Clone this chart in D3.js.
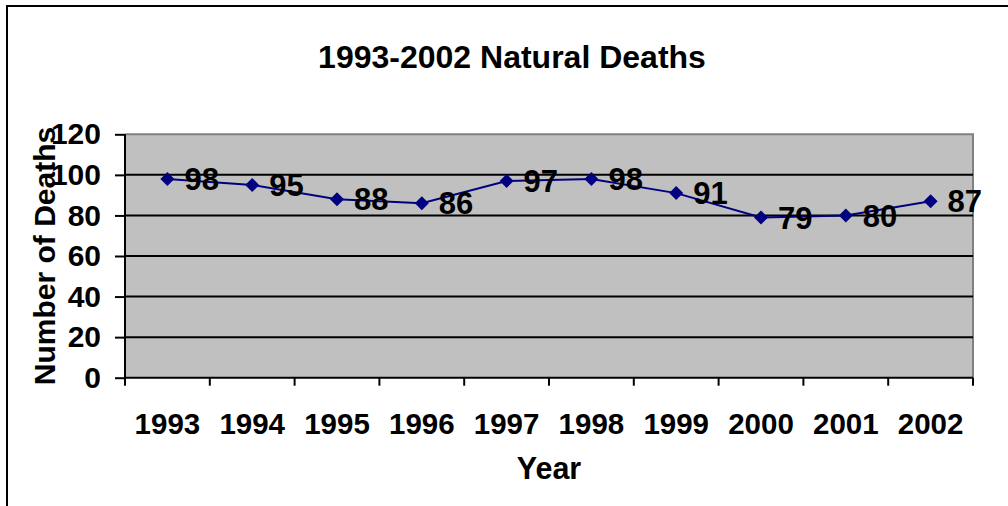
<!DOCTYPE html>
<html>
<head>
<meta charset="utf-8">
<script src="https://d3js.org/d3.v7.min.js"></script>
<style>
  body { margin: 0; background: #fff; }
  svg text { font-family: Arial, "Liberation Sans", sans-serif; font-weight: bold; fill: #000; }
</style>
</head>
<body>
<svg id="chart" width="1008" height="506"></svg>
<script>
const years = ["1993", "1994", "1995", "1996", "1997", "1998", "1999", "2000", "2001", "2002"];
const deaths = [98, 95, 88, 86, 97, 98, 91, 79, 80, 87];
const yTicks = [0, 20, 40, 60, 80, 100, 120];

const svg = d3.select("#chart");
const plotL = 125, plotR = 973, plotT = 134.3, plotB = 377.7;

// outer chart border (runs off the picture at right and bottom)
svg.append("rect")
  .attr("x", 7).attr("y", 6).attr("width", 1010).attr("height", 520)
  .attr("fill", "#fff").attr("stroke", "#000").attr("stroke-width", 2);

const x = d3.scaleBand().domain(years).range([plotL, plotR]);
const y = d3.scaleLinear().domain([0, 120]).range([plotB, plotT]);

// plot area
svg.append("rect")
  .attr("x", plotL).attr("y", plotT).attr("width", plotR - plotL).attr("height", plotB - plotT)
  .attr("fill", "#c0c0c0");
svg.append("path")
  .attr("d", `M${plotL},${plotT}H${plotR}V${plotB}`)
  .attr("fill", "none").attr("stroke", "#808080").attr("stroke-width", 2);

// gridlines
svg.append("g").selectAll("line")
  .data(yTicks.filter(d => d > 0 && d < 120))
  .join("line")
  .attr("x1", plotL).attr("x2", plotR)
  .attr("y1", d => y(d)).attr("y2", d => y(d))
  .attr("stroke", "#000").attr("stroke-width", 2);

// y axis
const yAxis = svg.append("g")
  .attr("transform", `translate(${plotL},0)`)
  .call(d3.axisLeft(y).tickValues(yTicks).tickSize(10).tickPadding(14));
yAxis.select(".domain").attr("stroke", "#000").attr("stroke-width", 2)
  .attr("d", `M0,${plotT}V${plotB + 7}`);
yAxis.selectAll(".tick line").attr("stroke-width", 2);
yAxis.selectAll(".tick text").attr("font-size", 30).attr("font-family", null);

// x axis: ticks at category boundaries
const xAxis = svg.append("g").attr("transform", `translate(0,${plotB})`);
xAxis.append("line").attr("x1", plotL).attr("x2", plotR)
  .attr("stroke", "#000").attr("stroke-width", 2);
xAxis.selectAll(".xt").data(years.concat(["end"]))
  .join("line")
  .attr("x1", (d, i) => i < years.length ? x(d) : x(years[years.length - 1]) + x.bandwidth())
  .attr("x2", (d, i) => i < years.length ? x(d) : x(years[years.length - 1]) + x.bandwidth())
  .attr("y1", 0).attr("y2", 8)
  .attr("stroke", "#000").attr("stroke-width", 2);
xAxis.selectAll("text").data(years).join("text")
  .attr("x", d => x(d) + x.bandwidth() / 2)
  .attr("y", 56)
  .attr("text-anchor", "middle")
  .attr("font-size", 29.5)
  .text(d => d);

// line and markers
const cx = d => x(d) + x.bandwidth() / 2;
svg.append("path")
  .datum(deaths)
  .attr("fill", "none").attr("stroke", "#000080").attr("stroke-width", 2)
  .attr("d", d3.line().x((d, i) => cx(years[i])).y(d => y(d)));

svg.append("g").selectAll("path")
  .data(deaths)
  .join("path")
  .attr("transform", (d, i) => `translate(${cx(years[i])},${y(d)})`)
  .attr("d", "M0,-7L7,0L0,7L-7,0Z")
  .attr("fill", "#000080");

// data labels
svg.append("g").selectAll("text")
  .data(deaths)
  .join("text")
  .attr("x", (d, i) => cx(years[i]) + 17)
  .attr("y", d => y(d))
  .attr("dy", "0.36em")
  .attr("font-size", 31)
  .text(d => d);

// titles
svg.append("text")
  .attr("x", 512).attr("y", 68)
  .attr("text-anchor", "middle").attr("font-size", 32)
  .text("1993-2002 Natural Deaths");
svg.append("text")
  .attr("x", 549).attr("y", 479)
  .attr("text-anchor", "middle").attr("font-size", 30.5)
  .text("Year");
svg.append("text")
  .attr("transform", "translate(55,256) rotate(-90)")
  .attr("text-anchor", "middle").attr("font-size", 30)
  .text("Number of Deaths");
</script>
</body>
</html>
